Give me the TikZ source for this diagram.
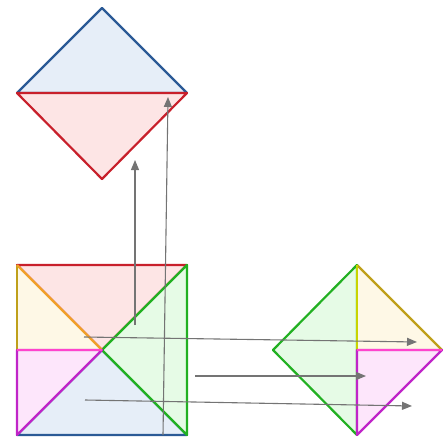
\documentclass[tikz,border=0pt]{standalone}
\usepackage{xcolor}
\usetikzlibrary{arrows.meta}
\definecolor{blueline}{HTML}{2B5A96}
\definecolor{bluefill}{HTML}{E6EEF8}
\definecolor{redline}{HTML}{C8202B}
\definecolor{redfill}{HTML}{FDE5E5}
\definecolor{greenline}{HTML}{22B022}
\definecolor{greenfill}{HTML}{E6FBE6}
\definecolor{yellowfill}{HTML}{FEF8E6}
\definecolor{oliveline}{HTML}{BFA01A}
\definecolor{orangeline}{HTML}{F0A028}
\definecolor{limeline}{HTML}{C8D400}
\definecolor{pinkfill}{HTML}{FDE6FB}
\definecolor{magline}{HTML}{C024C8}
\definecolor{hotpink}{HTML}{FF44CC}
\definecolor{arrowgray}{HTML}{747474}

\tikzset{
  piece/.style={line width=2.2pt, line join=round},
  move/.style={->, draw=arrowgray, line width=1.1pt},
}

\begin{document}
\begin{tikzpicture}[x=1pt, y=-1pt, >={Stealth[length=10pt, width=8pt, inset=0pt]}]
  \useasboundingbox (0,0) rectangle (447,439);

  % upper diamond
  \coordinate (uT) at (102,8);
  \coordinate (uL) at (17,93);
  \coordinate (uR) at (187,93);
  \coordinate (uB) at (102,179);
  \filldraw[piece, fill=bluefill, draw=blueline] (uL) -- (uT) -- (uR) -- cycle;
  \filldraw[piece, fill=redfill, draw=redline] (uL) -- (uR) -- (uB) -- cycle;

  % square
  \coordinate (sTL) at (17,265);
  \coordinate (sTR) at (187,265);
  \coordinate (sBR) at (187,435);
  \coordinate (sBL) at (17,435);
  \coordinate (sC) at (102,350);
  \coordinate (sML) at (17,350);
  \filldraw[piece, fill=redfill, draw=redline] (sTL) -- (sTR) -- (sC) -- cycle;
  \filldraw[piece, fill=bluefill, draw=blueline] (sBL) -- (sBR) -- (sC) -- cycle;
  \filldraw[piece, fill=greenfill, draw=greenline] (sTR) -- (sBR) -- (sC) -- cycle;
  \fill[yellowfill] (sTL) -- (sC) -- (sML) -- cycle;
  \draw[piece, oliveline] (sTL) -- (sML);
  \draw[piece, orangeline] (sTL) -- (sC);
  \filldraw[piece, fill=pinkfill, draw=magline] (sML) -- (sC) -- (sBL) -- cycle;
  \draw[piece, hotpink] (sML) -- (sC);

  % right diamond
  \coordinate (rT) at (357,265);
  \coordinate (rL) at (273,350);
  \coordinate (rR) at (442,350);
  \coordinate (rB) at (357,435);
  \coordinate (rC) at (357,350);
  \filldraw[piece, fill=greenfill, draw=greenline] (rT) -- (rL) -- (rB) -- cycle;
  \fill[yellowfill] (rT) -- (rR) -- (rC) -- cycle;
  \draw[piece, oliveline] (rT) -- (rR);
  \draw[piece, limeline] (rT) -- (rC);
  \filldraw[piece, fill=pinkfill, draw=magline] (rC) -- (rR) -- (rB) -- cycle;
  \draw[piece, hotpink] (rC) -- (rR);

  % arrows
  \coordinate (a1) at (135,325);
  \coordinate (b1) at (135,160);
  \coordinate (a2) at (163,435);
  \coordinate (b2) at (168,97);
  \coordinate (a3) at (84,337);
  \coordinate (b3) at (417,342);
  \coordinate (a4) at (195,376);
  \coordinate (b4) at (366,376);
  \coordinate (a5) at (85,400);
  \coordinate (b5) at (412,406);
  \draw[move] (a1) -- (b1);
  \draw[move] (a2) -- (b2);
  \draw[move] (a3) -- (b3);
  \draw[move] (a4) -- (b4);
  \draw[move] (a5) -- (b5);
\end{tikzpicture}
\end{document}
